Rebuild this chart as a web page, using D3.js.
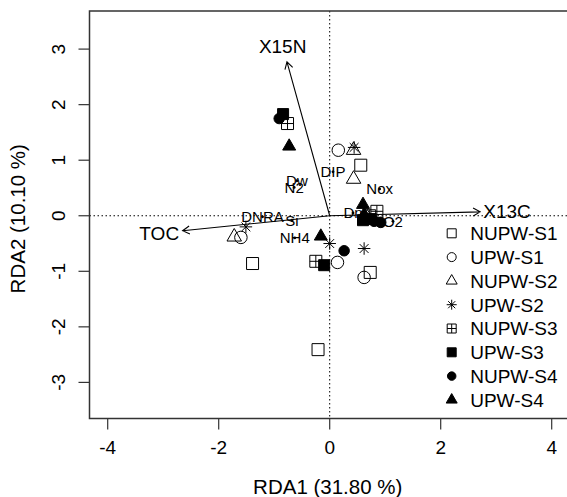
<!DOCTYPE html>
<meta charset="utf-8">
<script src="https://cdn.jsdelivr.net/npm/d3@7"></script>
<style>
  body { margin: 0; background: #fff; }
  text { font-family: "Liberation Sans", Arial, sans-serif; fill: #000; }
</style>
<div id="chart"></div>
<script>

// groups shown in the legend
var groups = ["NUPW-S1", "UPW-S1", "NUPW-S2", "UPW-S2", "NUPW-S3", "UPW-S3", "NUPW-S4", "UPW-S4"];

// site scores (group index, RDA1, RDA2)
var siteGroup = [0,0,0,0, 1,1,1,1, 2,2,2,2, 3,3,3,3, 4,4,4,4, 5,5,5,5, 6,6,6,6, 7,7,7,7];
var siteRDA1 = [-1.39, 0.56, 0.73, -0.21,   0.155, -1.60, 0.14, 0.62,
                0.43, 0.43, -1.72, 0.68,    0.44, -1.51, 0.00, 0.62,
                -0.76, -0.25, 0.85, 0.72,   -0.84, -0.10, 0.60, 0.74,
                -0.91, 0.26, 0.92, 0.80,    -0.73, -0.16, 0.60, 0.62];
var siteRDA2 = [-0.86, 0.91, -1.02, -2.41,  1.18, -0.39, -0.84, -1.11,
                1.18, 0.66, -0.38, -0.04,   1.23, -0.20, -0.50, -0.59,
                1.66, -0.82, 0.08, 0.00,    1.83, -0.89, -0.08, -0.06,
                1.75, -0.63, -0.12, -0.10,  1.25, -0.37, 0.20, 0.02];

// continuous variables (biplot arrows)
var envNames = ["X15N", "X13C", "TOC"];
var envRDA1 = [-0.77, 2.71, -2.65];
var envRDA2 = [2.77, 0.07, -0.27];

// factor centroids
var factorNames = ["DIP", "Dw", "N2", "Nox", "DNRA", "Si", "NH4", "Dn", "O2"];
var factorRDA1 = [0.06, -0.59, -0.64, 0.90, -1.21, -0.68, -0.63, 0.42, 1.14];
var factorRDA2 = [0.79, 0.63, 0.51, 0.48, -0.02, -0.08, -0.40, 0.05, -0.10];

var xTicks = [-4, -2, 0, 2, 4];
var yTicks = [-3, -2, -1, 0, 1, 2, 3];

var width = 567, height = 497;
var box = {left: 89.5, top: 11, right: 568, bottom: 418.5};

var x = d3.scaleLinear().domain([-4, 4]).range([107.7, 551.7]);
var y = d3.scaleLinear().domain([-3, 3]).range([382.4, 49.1]);

var svg = d3.select("#chart")
  .append("svg")
    .attr("width", width)
    .attr("height", height);

// R-like plotting symbols; size = width in px
function sq(ctx, s) { ctx.rect(-s/2, -s/2, s, s); }
function circ(ctx, s) { ctx.moveTo(s/2, 0); ctx.arc(0, 0, s/2, 0, 2 * Math.PI); }
function tri(ctx, s) {
  var h = s * Math.sqrt(3) / 2;
  ctx.moveTo(0, -h * 2/3); ctx.lineTo(s/2, h/3); ctx.lineTo(-s/2, h/3); ctx.closePath();
}
var shapes = [
  {draw: sq},
  {draw: circ},
  {draw: tri},
  {draw: function(ctx, s) {
    var r = s/2, q = r * Math.SQRT1_2;
    ctx.moveTo(-r, 0); ctx.lineTo(r, 0);
    ctx.moveTo(0, -r); ctx.lineTo(0, r);
    ctx.moveTo(-q, -q); ctx.lineTo(q, q);
    ctx.moveTo(-q, q); ctx.lineTo(q, -q);
  }},
  {draw: function(ctx, s) {
    sq(ctx, s);
    ctx.moveTo(-s/2, 0); ctx.lineTo(s/2, 0);
    ctx.moveTo(0, -s/2); ctx.lineTo(0, s/2);
  }},
  {draw: sq},
  {draw: circ},
  {draw: tri}
];
var filled = [false, false, false, false, false, true, true, true];
var plotSize = [12, 12.5, 14.5, 12.5, 12, 11, 10.5, 13];
var legendSize = [9, 9, 11, 10, 9, 9, 8.5, 11];

// dotted zero lines
svg.append("line")
  .attr("x1", box.left).attr("x2", box.right)
  .attr("y1", y(0)).attr("y2", y(0))
  .attr("stroke", "#000").attr("stroke-width", 1)
  .attr("stroke-dasharray", "1.5,2.5");
svg.append("line")
  .attr("x1", x(0)).attr("x2", x(0))
  .attr("y1", box.top).attr("y2", box.bottom)
  .attr("stroke", "#000").attr("stroke-width", 1)
  .attr("stroke-dasharray", "1.5,2.5");

// arrows
var env = envNames.map(function(n, i) { return {name: n, x: envRDA1[i], y: envRDA2[i]}; });
var arr = svg.append("g").selectAll("g").data(env).enter().append("g");
arr.append("path")
  .attr("fill", "none")
  .attr("stroke", "#000")
  .attr("stroke-width", 1.1)
  .attr("d", function(d) {
    var x0 = x(0), y0 = y(0), x1 = x(d.x), y1 = y(d.y);
    var a = Math.atan2(y1 - y0, x1 - x0), L = 8, w = Math.PI / 6;
    return "M" + x0 + "," + y0 + "L" + x1 + "," + y1 +
      "M" + (x1 - L * Math.cos(a - w)) + "," + (y1 - L * Math.sin(a - w)) +
      "L" + x1 + "," + y1 +
      "L" + (x1 - L * Math.cos(a + w)) + "," + (y1 - L * Math.sin(a + w));
  });
arr.append("text")
  .style("font-size", "19px")
  .attr("text-anchor", "middle")
  .attr("dy", "0.36em")
  .text(function(d) { return d.name; })
  .each(function(d) {
    var t = d3.select(this);
    var w = this.getComputedTextLength(), h = 14;
    var dx = x(d.x) - x(0), dy = y(d.y) - y(0), len = Math.sqrt(dx * dx + dy * dy);
    var ux = dx / len, uy = dy / len;
    var off = Math.abs(ux) * w / 2 + Math.abs(uy) * h / 2 + 3;
    t.attr("x", x(d.x) + ux * off).attr("y", y(d.y) + uy * off);
  });

// factor centroids
var fac = factorNames.map(function(n, i) { return {name: n, x: factorRDA1[i], y: factorRDA2[i]}; });
var fg = svg.append("g").selectAll("g").data(fac).enter().append("g");
fg.append("text")
  .attr("x", function(d) { return x(d.x); })
  .attr("y", function(d) { return y(d.y); })
  .attr("dy", "0.36em")
  .attr("text-anchor", "middle")
  .style("font-size", "15px")
  .text(function(d) { return d.name; });
fg.append("circle")
  .attr("cx", function(d) { return x(d.x); })
  .attr("cy", function(d) { return y(d.y); })
  .attr("r", 1.4)
  .attr("fill", "#000");

// site points
var sites = siteGroup.map(function(g, i) { return {g: g, x: siteRDA1[i], y: siteRDA2[i]}; });
svg.append("g").selectAll("path").data(sites).enter().append("path")
  .attr("transform", function(d) { return "translate(" + x(d.x) + "," + y(d.y) + ")"; })
  .attr("d", function(d) { return d3.symbol().type(shapes[d.g]).size(plotSize[d.g])(); })
  .attr("fill", function(d) { return filled[d.g] ? "#000" : "none"; })
  .attr("stroke", "#000")
  .attr("stroke-width", 1);

// frame
svg.append("rect")
  .attr("x", box.left).attr("y", box.top)
  .attr("width", box.right - box.left).attr("height", box.bottom - box.top)
  .attr("fill", "none").attr("stroke", "#333").attr("stroke-width", 1.5);

// x axis
var xa = svg.append("g").selectAll("g").data(xTicks).enter().append("g");
xa.append("line")
  .attr("x1", function(d) { return x(d); }).attr("x2", function(d) { return x(d); })
  .attr("y1", box.bottom).attr("y2", box.bottom + 11)
  .attr("stroke", "#333").attr("stroke-width", 1.2);
xa.append("text")
  .attr("x", function(d) { return x(d); })
  .attr("y", 454)
  .attr("text-anchor", "middle")
  .style("font-size", "19px")
  .text(function(d) { return d; });

// y axis
var ya = svg.append("g").selectAll("g").data(yTicks).enter().append("g");
ya.append("line")
  .attr("x1", box.left - 11).attr("x2", box.left)
  .attr("y1", function(d) { return y(d); }).attr("y2", function(d) { return y(d); })
  .attr("stroke", "#333").attr("stroke-width", 1.2);
ya.append("text")
  .attr("transform", function(d) { return "translate(65," + y(d) + ") rotate(-90)"; })
  .attr("text-anchor", "middle")
  .style("font-size", "19px")
  .text(function(d) { return d; });

// axis titles
svg.append("text")
  .attr("x", (box.left + 566) / 2)
  .attr("y", 494)
  .attr("text-anchor", "middle")
  .style("font-size", "20.5px")
  .text("RDA1 (31.80 %)");
svg.append("text")
  .attr("transform", "translate(25," + ((box.top + box.bottom) / 2 + 4) + ") rotate(-90)")
  .attr("text-anchor", "middle")
  .style("font-size", "20.5px")
  .text("RDA2 (10.10 %)");

// legend
var lg = svg.append("g").selectAll("g").data(groups).enter().append("g")
  .attr("transform", function(d, i) { return "translate(451.7," + (233.3 + i * 23.8) + ")"; });
lg.append("path")
  .attr("d", function(d, i) { return d3.symbol().type(shapes[i]).size(legendSize[i])(); })
  .attr("fill", function(d, i) { return filled[i] ? "#000" : "none"; })
  .attr("stroke", "#000")
  .attr("stroke-width", 1);
lg.append("text")
  .attr("x", 18.5)
  .attr("dy", "0.36em")
  .style("font-size", "19px")
  .text(function(d) { return d; });

</script>
